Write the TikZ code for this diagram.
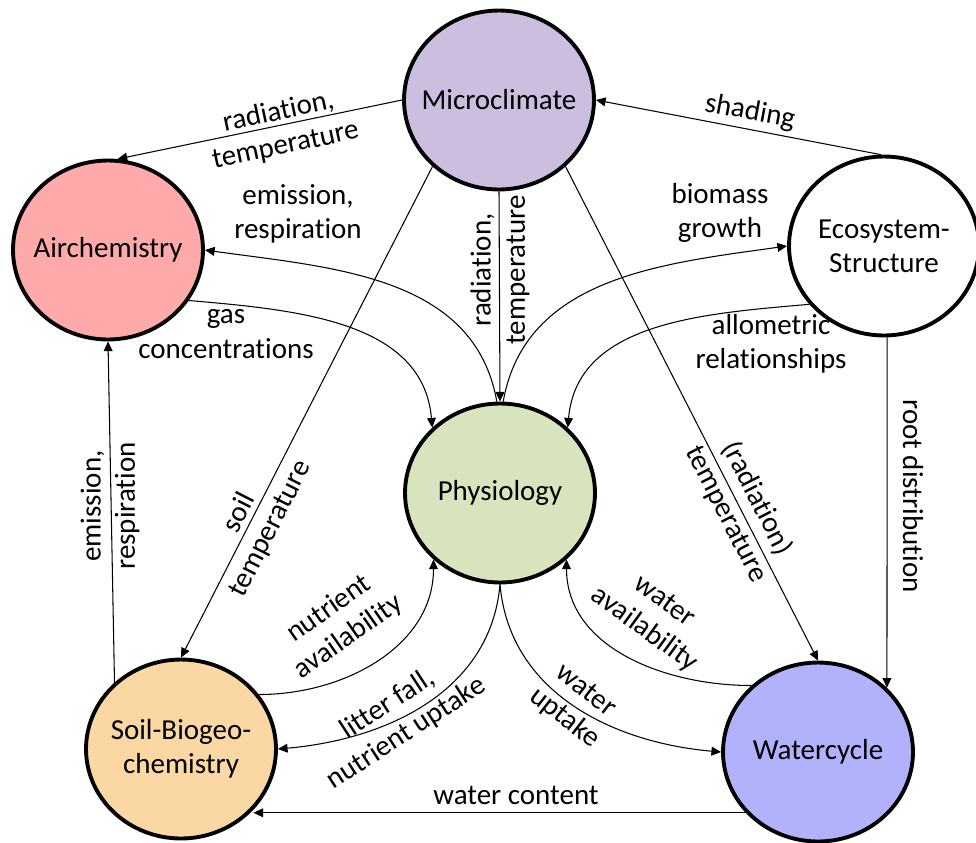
\documentclass[tikz,border=0pt]{standalone}
\usepackage{fontspec}
\setmainfont{Carlito}[Ligatures=NoCommon]
\usetikzlibrary{shapes.geometric,arrows.meta}

\definecolor{microcol}{RGB}{204,190,222}
\definecolor{aircol}{RGB}{255,170,170}
\definecolor{ecocol}{RGB}{255,255,255}
\definecolor{physcol}{RGB}{215,228,189}
\definecolor{soilcol}{RGB}{250,215,163}
\definecolor{watercol}{RGB}{178,178,252}

\begin{document}
\begin{tikzpicture}[x=0.02cm,y=0.02cm,
    proc/.style={ellipse,draw,line width=2.2pt,minimum width=3.8cm,minimum height=3.58cm,
      inner xsep=-14pt,inner ysep=0pt,align=center,font=\fontsize{16.5}{19.5}\selectfont},
    lbl/.style={align=center,inner sep=1pt,font=\fontsize{16.5}{19.5}\selectfont},
    flow/.style={line width=0.6pt,-{Triangle[length=5.5pt,width=5pt]}}]
    \useasboundingbox (0,0) rectangle (976,-842);
    % Processes: {name/x/y/colour/text}
    \foreach \n/\x/\y/\c/\t in {micro/499/100/microcol/Microclimate, air/108/250/aircol/Airchemistry,
        eco/884/246/ecocol/Ecosystem-\\Structure, phys/500/493/physcol/Physiology,
        soil/181/749/soilcol/Soil-Biogeo-\\chemistry, water/818/752/watercol/Watercycle}
      \node[proc,fill=\c] (\n) at (\x,-\y) {\t};
    % Straight links
    \draw[flow] (micro.180) -- (air.84);
    \draw[flow] (eco.92) -- (micro.0);
    \draw[flow] (micro.south) -- (phys.north);
    \draw[flow] (micro.225) -- (soil.90);
    \draw[flow] (micro.-45) -- (water.90);
    \draw[flow] (eco.-88) -- (water.43);
    \draw[flow] (water.220) -- (soil.-40 |- water.220);
    \draw[flow] (soil.135) -- (air.south);
    % Curved links
    \draw[flow] (phys.92) to[out=100,in=-8] (air.0);
    \draw[flow] (air.-32) to[out=-5,in=95] (phys.136);
    \draw[flow] (phys.88) to[out=80,in=188] (eco.180);
    \draw[flow] (eco.218) to[out=185,in=85] (phys.44);
    \draw[flow] (soil.35) to[out=0,in=-90] (phys.225);
    \draw[flow] (phys.south) to[out=-95,in=5] (soil.0);
    \draw[flow] (phys.south) to[out=-85,in=175] (water.180);
    \draw[flow] (water.135) to[out=180,in=-90] (phys.-45);
    % Labels
    \node[lbl,rotate=12] (tRadAir) at (282,-129) {radiation,\\temperature};
    \node[lbl,rotate=-10.6] (tShade) at (750,-112) {shading};
    \node[lbl,rotate=90] (tRadPhys) at (500,-270) {radiation,\\temperature};
    \node[lbl,rotate=63] (tSoilT) at (255,-521) {soil\\temperature};
    \node[lbl,rotate=-63] (tRadWater) at (742,-506) {(radiation)\\temperature};
    \node[lbl,rotate=-90] (tRoot) at (913,-496) {root distribution};
    \node[lbl] (tWaterC) at (516,-795) {water content};
    \node[lbl,rotate=90] (tEmisAir) at (110,-506) {emission,\\respiration};
    \node[lbl] (tEmisPhys) at (298,-214) {emission,\\respiration};
    \node[lbl] (tGas) at (226,-334) {gas\\concentrations};
    \node[lbl] (tBiomass) at (720,-213) {biomass\\growth};
    \node[lbl] (tAllo) at (771,-344) {allometric\\relationships};
    \node[lbl,rotate=35] (tNutr) at (339,-623) {nutrient\\availability};
    \node[lbl,rotate=33] (tLitter) at (397,-719) {litter fall,\\nutrient uptake};
    \node[lbl,rotate=-38] (tWUptake) at (575,-705) {water\\uptake};
    \node[lbl,rotate=-36] (tWAvail) at (654,-616) {water\\availability};
\end{tikzpicture}
\end{document}
